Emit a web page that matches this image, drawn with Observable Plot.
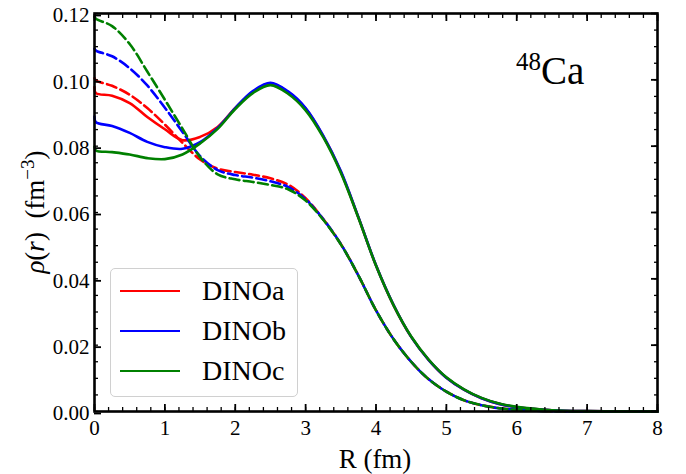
<!DOCTYPE html>
<html><head><meta charset="utf-8">
<script src="https://cdn.jsdelivr.net/npm/d3@7"></script>
<script src="https://cdn.jsdelivr.net/npm/@observablehq/plot@0.6"></script>
<style>
body{margin:0;background:#fff;}
#wrap{position:relative;width:686px;height:474px;font-family:"Liberation Serif",serif;color:#000;}
.ov{position:absolute;white-space:nowrap;line-height:1;}
#legend{position:absolute;left:110px;top:268px;width:186px;height:127px;border:1.5px solid #d0d0d0;border-radius:5px;background:rgba(255,255,255,0.8);}
.lrow{position:absolute;left:0;height:30px;}
.lline{position:absolute;left:9px;width:60px;height:0;border-top:2.6px solid;top:14px;}
.ltext{position:absolute;left:91px;top:0;font-size:28px;line-height:30px;}
</style></head><body><div id="wrap"></div>
<script>
// radius grid (fm)
const r = [0, 0.02, 0.25, 0.5, 0.75, 1.0, 1.25, 1.5, 1.75, 2.0, 2.25, 2.5, 2.75, 3.0, 3.25, 3.5, 3.75, 4.0, 4.25, 4.5, 4.75, 5.0, 5.25, 5.5, 5.75, 6.0, 6.5, 7.0, 7.5, 8.0];
// solid curves
const solidA = [0.0978, 0.0960, 0.0952, 0.0930, 0.0888, 0.0851, 0.0818, 0.0828, 0.0858, 0.0915, 0.0964, 0.0989, 0.0963, 0.0913, 0.0830, 0.0723, 0.0585, 0.0440, 0.0320, 0.0225, 0.0155, 0.0102, 0.0066, 0.0040, 0.0023, 0.0013, 0.0004, 0.0001, 0.00003, 0];
const solidB = [0.0889, 0.0872, 0.0861, 0.0840, 0.0813, 0.0797, 0.0792, 0.0812, 0.0855, 0.0915, 0.0966, 0.0991, 0.0965, 0.0915, 0.0832, 0.0725, 0.0586, 0.0441, 0.0321, 0.0225, 0.0155, 0.0102, 0.0066, 0.0040, 0.0023, 0.0013, 0.0004, 0.0001, 0.00003, 0];
const solidC = [0.0798, 0.0787, 0.0782, 0.0775, 0.0764, 0.0761, 0.0775, 0.0808, 0.0852, 0.0912, 0.0960, 0.0984, 0.0958, 0.0908, 0.0827, 0.0720, 0.0584, 0.0440, 0.0320, 0.0226, 0.0156, 0.0103, 0.0067, 0.0041, 0.0024, 0.0014, 0.0004, 0.0001, 0.00003, 0];
// dashed curves
const dashA = [0.1005, 0.0998, 0.0982, 0.0955, 0.0915, 0.0865, 0.0810, 0.0760, 0.0732, 0.0722, 0.0714, 0.0703, 0.0684, 0.0643, 0.0580, 0.0505, 0.0410, 0.0305, 0.0218, 0.0150, 0.0097, 0.0060, 0.0034, 0.0019, 0.0010, 0.0005, 0.0001, 0.00002, 0, 0];
const dashB = [0.1094, 0.1088, 0.1071, 0.1035, 0.0983, 0.0916, 0.0843, 0.0770, 0.0728, 0.0713, 0.0705, 0.0694, 0.0677, 0.0640, 0.0580, 0.0505, 0.0410, 0.0305, 0.0218, 0.0150, 0.0097, 0.0060, 0.0034, 0.0019, 0.0010, 0.0005, 0.0001, 0.00002, 0, 0];
const dashC = [0.1190, 0.1184, 0.1162, 0.1108, 0.1025, 0.0940, 0.0853, 0.0767, 0.0715, 0.0700, 0.0692, 0.0683, 0.0670, 0.0636, 0.0578, 0.0504, 0.0410, 0.0305, 0.0218, 0.0150, 0.0097, 0.0060, 0.0034, 0.0019, 0.0010, 0.0005, 0.0001, 0.00002, 0, 0];

const names = ["DINOa", "DINOb", "DINOc"];
const colors = ["#ff0000", "#0000ff", "#008000"];
const solids = [solidA, solidB, solidC];
const dashes = [dashA, dashB, dashC];

const xTicks = [0, 1, 2, 3, 4, 5, 6, 7, 8];
const yTicks = [0, 0.02, 0.04, 0.06, 0.08, 0.10, 0.12];
const xMinor = d3.range(0, 40.5, 1).map(i => i * 0.2);
const yMinor = d3.range(0, 24.5, 1).map(i => i * 0.005);

const toRows = vals => r.map((x, i) => ({r: x, rho: vals[i]}));

const marks = [];
names.forEach((n, k) => {
  marks.push(Plot.line(toRows(solids[k]), {x: "r", y: "rho", stroke: colors[k], strokeWidth: 2.6, curve: "catmull-rom"}));
  marks.push(Plot.line(toRows(dashes[k]), {x: "r", y: "rho", stroke: colors[k], strokeWidth: 2.6, strokeDasharray: "10,4.4", curve: "catmull-rom"}));
});

const blank = () => "";
const chart = Plot.plot({
  width: 686, height: 474,
  marginLeft: 94, marginRight: 29, marginTop: 13, marginBottom: 63,
  x: {domain: [0, 8]},
  y: {domain: [0, 0.12]},
  style: {fontFamily: "Liberation Serif", fontSize: "21px", color: "#000", background: "#fff", overflow: "visible"},
  marks: [
    ...marks,
    Plot.axisX(xMinor, {anchor: "bottom", tickSize: -4, strokeWidth: 1.3, tickFormat: blank, label: null}),
    Plot.axisX(xMinor, {anchor: "top", tickSize: -4, strokeWidth: 1.3, tickFormat: blank, label: null}),
    Plot.axisY(yMinor, {anchor: "left", tickSize: -4, strokeWidth: 1.3, tickFormat: blank, label: null}),
    Plot.axisY(yMinor, {anchor: "right", tickSize: -4, strokeWidth: 1.3, tickFormat: blank, label: null}),
    Plot.axisX(xTicks, {anchor: "top", tickSize: -7, strokeWidth: 1.8, tickFormat: blank, label: null}),
    Plot.axisY(yTicks, {anchor: "right", tickSize: -7, strokeWidth: 1.8, tickFormat: blank, label: null}),
    Plot.axisX(xTicks, {anchor: "bottom", tickSize: -7, strokeWidth: 1.8, tickPadding: 16, tickFormat: d3.format("d"), label: null}),
    Plot.axisY(yTicks, {anchor: "left", tickSize: -7, strokeWidth: 1.8, tickPadding: 12, dy: 2, tickFormat: d3.format(".2f"), label: null}),
    Plot.frame({stroke: "#000", strokeWidth: 2.6})
  ]
});

const wrap = document.getElementById("wrap");
wrap.appendChild(chart);

// x label
const xl = document.createElement("div");
xl.className = "ov";
xl.style.cssText = "left:0;width:750px;top:446px;text-align:center;font-size:27px;";
xl.textContent = "R (fm)";
wrap.appendChild(xl);

// y label
const yl = document.createElement("div");
yl.className = "ov";
yl.style.cssText = "left:33px;top:212px;font-size:27px;transform:translate(-50%,-50%) rotate(-90deg);";
yl.innerHTML = '<i>ρ</i>(<i>r</i>) &nbsp;(fm<sup style="font-size:19px;vertical-align:10px;">−3</sup>)';
wrap.appendChild(yl);

// nucleus annotation
const nu = document.createElement("div");
nu.className = "ov";
nu.style.cssText = "left:516px;top:49px;font-size:39px;";
nu.innerHTML = '<sup style="font-size:25px;vertical-align:14px;">48</sup>Ca';
wrap.appendChild(nu);

// legend
const lg = document.createElement("div");
lg.id = "legend";
names.forEach((n, k) => {
  const row = document.createElement("div");
  row.className = "lrow";
  row.style.top = (7 + k * 40) + "px";
  row.style.width = "100%";
  row.innerHTML = `<div class="lline" style="border-color:${colors[k]}"></div><div class="ltext">${n}</div>`;
  lg.appendChild(row);
});
wrap.appendChild(lg);
</script>
</body></html>
